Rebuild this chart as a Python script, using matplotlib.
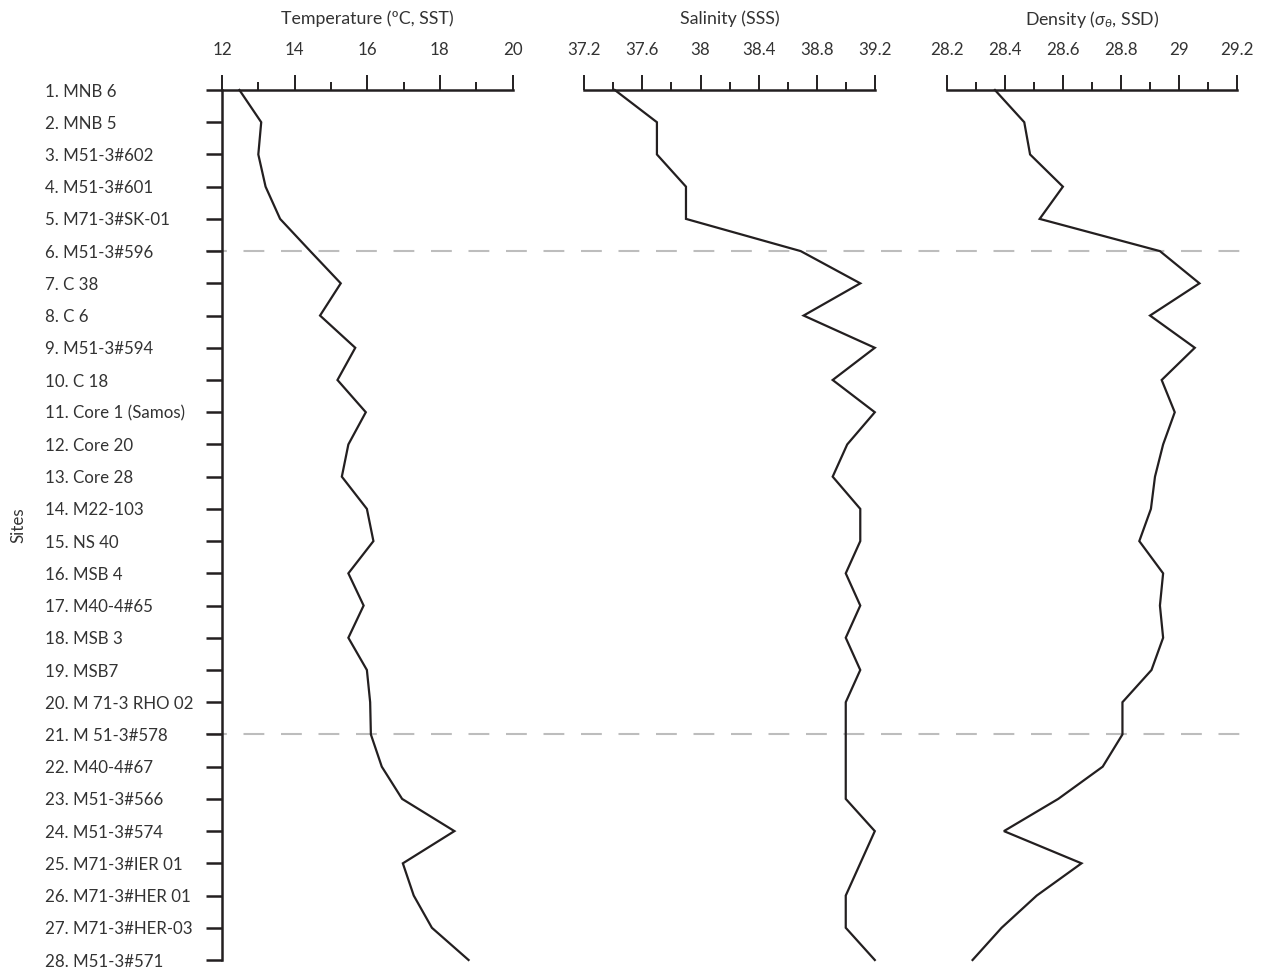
import matplotlib
matplotlib.use("Agg")
import matplotlib.pyplot as plt
from matplotlib.ticker import MultipleLocator, FixedLocator

plt.rcParams['font.family'] = ['Lato', 'DejaVu Sans']
plt.rcParams['mathtext.fontset'] = 'custom'
plt.rcParams['mathtext.rm'] = 'Lato'
plt.rcParams['mathtext.it'] = 'Lato:italic'

sites = ["1. MNB 6", "2. MNB 5", "3. M51-3#602", "4. M51-3#601", "5. M71-3#SK-01",
         "6. M51-3#596", "7. C 38", "8. C 6", "9. M51-3#594", "10. C 18",
         "11. Core 1 (Samos)", "12. Core 20", "13. Core 28", "14. M22-103", "15. NS 40",
         "16. MSB 4", "17. M40-4#65", "18. MSB 3", "19. MSB7", "20. M 71-3 RHO 02",
         "21. M 51-3#578", "22. M40-4#67", "23. M51-3#566", "24. M51-3#574",
         "25. M71-3#IER 01", "26. M71-3#HER 01", "27. M71-3#HER-03", "28. M51-3#571"]
site_idx = list(range(1, 29))

temperature = [12.48, 13.08, 13.00, 13.20, 13.60, 14.43, 15.27, 14.70, 15.67, 15.18,
               15.96, 15.48, 15.30, 15.99, 16.17, 15.48, 15.90, 15.48, 15.99, 16.08,
               16.10, 16.40, 16.96, 18.40, 16.98, 17.28, 17.78, 18.79]
salinity = [37.41, 37.70, 37.70, 37.90, 37.90, 38.69, 39.10, 38.71, 39.20, 38.91,
            39.20, 39.01, 38.91, 39.10, 39.10, 39.00, 39.10, 39.00, 39.10, 39.00,
            39.00, 39.00, 39.00, 39.20, 39.10, 39.00, 39.00, 39.20]
density = [28.366, 28.467, 28.487, 28.600, 28.520, 28.934, 29.070, 28.900, 29.054, 28.940,
           28.985, 28.945, 28.917, 28.903, 28.863, 28.945, 28.934, 28.945, 28.905, 28.805,
           28.805, 28.737, 28.584, 28.397, 28.664, 28.510, 28.389, 28.289]

boundary_sites = [6, 21]

panels = [
    ("Temperature (ºC, SST)", temperature, (12, 20), [12, 14, 16, 18, 20], 1.0, ["12", "14", "16", "18", "20"]),
    ("Salinity (SSS)", salinity, (37.2, 39.2), [37.2, 37.6, 38.0, 38.4, 38.8, 39.2], 0.2,
     ["37.2", "37.6", "38", "38.4", "38.8", "39.2"]),
    (r"Density ($\sigma_\theta$, SSD)", density, (28.2, 29.2), [28.2, 28.4, 28.6, 28.8, 29.0, 29.2], 0.1,
     ["28.2", "28.4", "28.6", "28.8", "29", "29.2"]),
]

W, H = 1263, 971
fig = plt.figure(figsize=(W / 100, H / 100), dpi=100)
lefts = [222, 584.3, 946.7]
width_px = 290.5
top_px, bot_px = 90, 960

ink = '#231f20'
txt = '#333333'
fs_lab = 12.2
fs_title = 12.8

axes = []
for i, (title, vals, xl, majors, minor, labels) in enumerate(panels):
    ax = fig.add_axes([lefts[i] / W, 1 - bot_px / H, width_px / W, (bot_px - top_px) / H])
    axes.append(ax)
    ax.plot(vals, site_idx, color=ink, lw=1.6, clip_on=False, zorder=3, solid_joinstyle='miter')
    ax.set_xlim(*xl)
    ax.set_ylim(28, 1)
    ax.xaxis.tick_top()
    ax.xaxis.set_major_locator(FixedLocator(majors))
    ax.set_xticklabels(labels)
    ax.xaxis.set_minor_locator(MultipleLocator(minor))
    ax.tick_params(axis='x', which='major', length=11, width=1.4, direction='out',
                   pad=12, labelsize=fs_lab, colors=ink, labelcolor=txt)
    ax.tick_params(axis='x', which='minor', length=6, width=1.4, direction='out', colors=ink)
    for s in ['right', 'bottom']:
        ax.spines[s].set_visible(False)
    ax.spines['top'].set_linewidth(1.8)
    ax.spines['top'].set_color(ink)
    ax.patch.set_alpha(0)
    ax.text(0.5, 1 + 71 / (bot_px - top_px), title, transform=ax.transAxes,
            ha='center', va='center', fontsize=fs_title, color=txt)
    if i == 0:
        ax.spines['left'].set_linewidth(1.8)
        ax.spines['left'].set_color(ink)
        ax.yaxis.set_major_locator(FixedLocator(site_idx))
        ax.set_yticklabels(sites)
        ax.tick_params(axis='y', length=11.5, width=1.8, direction='out', pad=116,
                       labelsize=fs_lab, colors=ink, labelcolor=txt)
        for lab in ax.get_yticklabels():
            lab.set_horizontalalignment('left')
        ax.text((18 - 222) / width_px, 0.5, "Sites", transform=ax.transAxes, rotation=90,
                ha='center', va='center', fontsize=fs_lab, color=txt)
        for b in boundary_sites:
            ax.axhline(b, xmin=(206 - 222) / width_px, xmax=(1240 - 222) / width_px,
                       color='#bdbdbd', lw=1.5, dashes=(10, 8), clip_on=False, zorder=1)
    else:
        ax.spines['left'].set_visible(False)
        ax.set_yticks([])

fig.savefig("out.png", dpi=100, facecolor='white')
